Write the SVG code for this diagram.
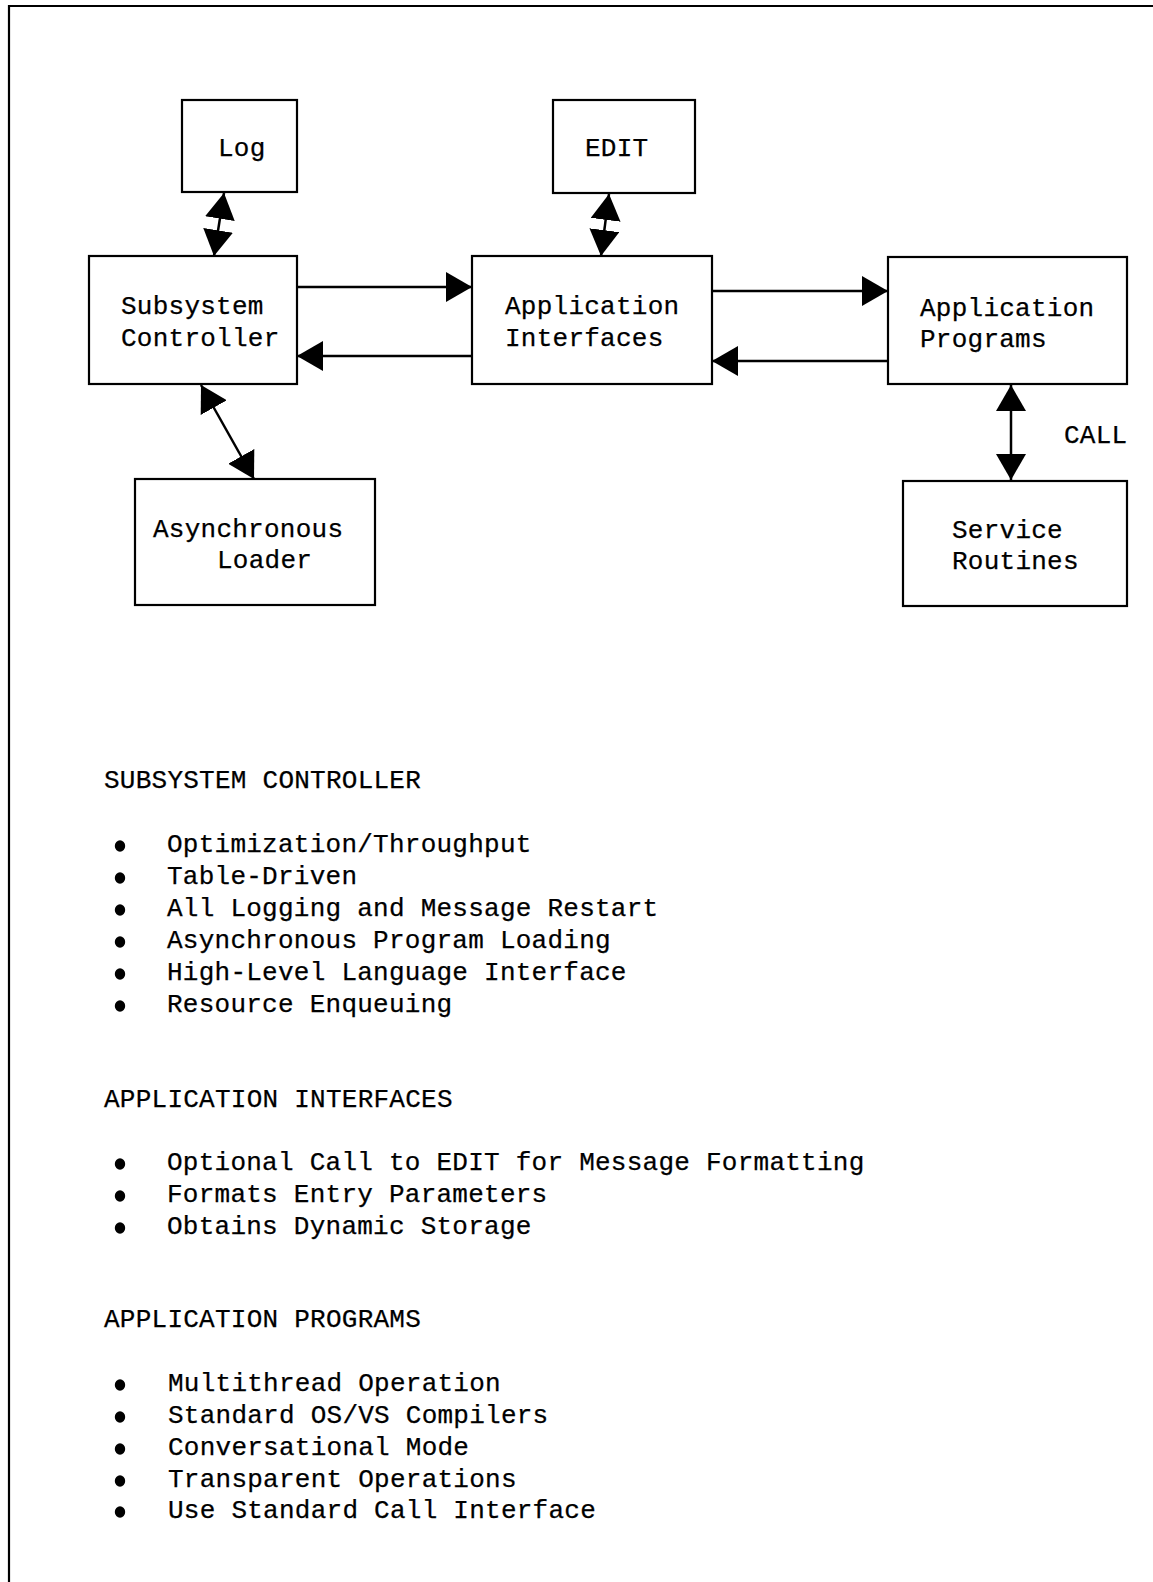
<svg xmlns="http://www.w3.org/2000/svg" width="1153" height="1582" viewBox="0 0 1153 1582">
<style>
.box{fill:#fff;stroke:#000;stroke-width:2.2}
.t{font-family:"Liberation Mono","Courier New",monospace;font-size:26px;letter-spacing:0.25px;fill:#000;stroke:#000;stroke-width:0.25}
.c{stroke:#000;stroke-width:2.5;fill:none}
.b{fill:#000}
</style>
<defs>
<marker id="ah" markerUnits="userSpaceOnUse" viewBox="0 0 26 30" refX="26" refY="15" markerWidth="26" markerHeight="30" orient="auto-start-reverse">
<path d="M0,0 L26,15 L0,30 z" fill="#000"/>
</marker>
</defs>
<rect width="1153" height="1582" fill="#fff"/>
<path d="M9,1582 V6 H1153" fill="none" stroke="#000" stroke-width="2.2"/>

<g id="log"><rect class="box" x="182" y="100" width="115" height="92"/><text class="t" x="218" y="156">Log</text></g>
<g id="edit"><rect class="box" x="553" y="100" width="142" height="93"/><text class="t" x="585" y="156">EDIT</text></g>
<g id="subsystem"><rect class="box" x="89" y="256" width="208" height="128"/><text class="t" x="121" y="314">Subsystem</text><text class="t" x="121" y="346">Controller</text></g>
<g id="appint"><rect class="box" x="472" y="256" width="240" height="128"/><text class="t" x="505" y="314">Application</text><text class="t" x="505" y="346">Interfaces</text></g>
<g id="appprog"><rect class="box" x="888" y="257" width="239" height="127"/><text class="t" x="920" y="316">Application</text><text class="t" x="920" y="347">Programs</text></g>
<g id="loader"><rect class="box" x="135" y="479" width="240" height="126"/><text class="t" x="153" y="537">Asynchronous</text><text class="t" x="217" y="568">Loader</text></g>
<g id="service"><rect class="box" x="903" y="481" width="224" height="125"/><text class="t" x="952" y="538">Service</text><text class="t" x="952" y="569">Routines</text></g>

<g id="connectors">
<line class="c" x1="224" y1="193" x2="214" y2="256" marker-start="url(#ah)" marker-end="url(#ah)"/>
<line class="c" x1="609" y1="194" x2="601" y2="256" marker-start="url(#ah)" marker-end="url(#ah)"/>
<line class="c" x1="297" y1="287" x2="472" y2="287" marker-end="url(#ah)"/>
<line class="c" x1="472" y1="356" x2="297" y2="356" marker-end="url(#ah)"/>
<line class="c" x1="712" y1="291" x2="888" y2="291" marker-end="url(#ah)"/>
<line class="c" x1="888" y1="361" x2="712" y2="361" marker-end="url(#ah)"/>
<line class="c" x1="201" y1="385" x2="254" y2="479" marker-start="url(#ah)" marker-end="url(#ah)"/>
<line class="c" x1="1011" y1="385" x2="1011" y2="480" marker-start="url(#ah)" marker-end="url(#ah)"/>
<text class="t" x="1064" y="443">CALL</text>
</g>

<g id="notes">
<text class="t" x="104" y="788">SUBSYSTEM CONTROLLER</text>
<ellipse class="b" cx="120" cy="846" rx="5.2" ry="5.8"/><text class="t" x="167" y="852">Optimization/Throughput</text>
<ellipse class="b" cx="120" cy="878" rx="5.2" ry="5.8"/><text class="t" x="167" y="884">Table-Driven</text>
<ellipse class="b" cx="120" cy="910" rx="5.2" ry="5.8"/><text class="t" x="167" y="916">All Logging and Message Restart</text>
<ellipse class="b" cx="120" cy="942" rx="5.2" ry="5.8"/><text class="t" x="167" y="948">Asynchronous Program Loading</text>
<ellipse class="b" cx="120" cy="974" rx="5.2" ry="5.8"/><text class="t" x="167" y="980">High-Level Language Interface</text>
<ellipse class="b" cx="120" cy="1006" rx="5.2" ry="5.8"/><text class="t" x="167" y="1012">Resource Enqueuing</text>

<text class="t" x="104" y="1107">APPLICATION INTERFACES</text>
<ellipse class="b" cx="120" cy="1164" rx="5.2" ry="5.8"/><text class="t" x="167" y="1170">Optional Call to EDIT for Message Formatting</text>
<ellipse class="b" cx="120" cy="1196" rx="5.2" ry="5.8"/><text class="t" x="167" y="1202">Formats Entry Parameters</text>
<ellipse class="b" cx="120" cy="1228" rx="5.2" ry="5.8"/><text class="t" x="167" y="1234">Obtains Dynamic Storage</text>

<text class="t" x="104" y="1327">APPLICATION PROGRAMS</text>
<ellipse class="b" cx="120" cy="1385" rx="5.2" ry="5.8"/><text class="t" x="168" y="1391">Multithread Operation</text>
<ellipse class="b" cx="120" cy="1417" rx="5.2" ry="5.8"/><text class="t" x="168" y="1423">Standard OS/VS Compilers</text>
<ellipse class="b" cx="120" cy="1449" rx="5.2" ry="5.8"/><text class="t" x="168" y="1455">Conversational Mode</text>
<ellipse class="b" cx="120" cy="1481" rx="5.2" ry="5.8"/><text class="t" x="168" y="1487">Transparent Operations</text>
<ellipse class="b" cx="120" cy="1512" rx="5.2" ry="5.8"/><text class="t" x="168" y="1518">Use Standard Call Interface</text>
</g>
</svg>
